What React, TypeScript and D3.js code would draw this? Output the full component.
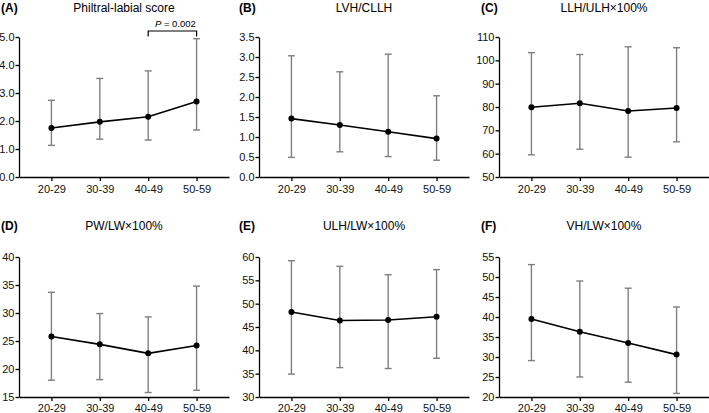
import React, { useEffect, useRef } from "react";
import * as d3 from "d3";

const categories = ["20-29", "30-39", "40-49", "50-59"];
const panelLetters = ["(A)", "(B)", "(C)", "(D)", "(E)", "(F)"];
const titles = [
  "Philtral-labial score",
  "LVH/CLLH",
  "LLH/ULH×100%",
  "PW/LW×100%",
  "ULH/LW×100%",
  "VH/LW×100%",
];

// means, lower and upper error bar ends
const meansA = [1.75, 1.97, 2.15, 2.7];
const lowA = [1.13, 1.35, 1.32, 1.68];
const highA = [2.74, 3.52, 3.79, 4.94];

const meansB = [1.46, 1.3, 1.13, 0.96];
const lowB = [0.49, 0.63, 0.51, 0.42];
const highB = [3.03, 2.63, 3.07, 2.03];

const meansC = [79.9, 81.6, 78.3, 79.6];
const lowC = [59.5, 61.9, 58.5, 65.1];
const highC = [103.3, 102.5, 105.8, 105.4];

const meansD = [25.8, 24.4, 22.8, 24.2];
const lowD = [18.0, 18.1, 15.8, 16.2];
const highD = [33.7, 29.9, 29.3, 34.8];

const meansE = [48.2, 46.4, 46.5, 47.2];
const lowE = [34.9, 36.3, 36.1, 38.3];
const highE = [59.2, 58.0, 56.2, 57.3];

const meansF = [39.5, 36.3, 33.5, 30.6];
const lowF = [29.1, 25.0, 23.7, 20.9];
const highF = [53.1, 49.0, 47.2, 42.5];

const yTicksA = [0, 1, 2, 3, 4, 5];
const yTicksB = [0, 0.5, 1, 1.5, 2, 2.5, 3, 3.5];
const yTicksC = [50, 60, 70, 80, 90, 100, 110];
const yTicksD = [15, 20, 25, 30, 35, 40];
const yTicksE = [30, 35, 40, 45, 50, 55, 60];
const yTicksF = [20, 25, 30, 35, 40, 45, 50, 55];

const yFormats = [".1f", ".1f", "d", "d", "d", "d"];

const panels = [
  { means: meansA, low: lowA, high: highA, ticks: yTicksA },
  { means: meansB, low: lowB, high: highB, ticks: yTicksB },
  { means: meansC, low: lowC, high: highC, ticks: yTicksC },
  { means: meansD, low: lowD, high: highD, ticks: yTicksD },
  { means: meansE, low: lowE, high: highE, ticks: yTicksE },
  { means: meansF, low: lowF, high: highF, ticks: yTicksF },
];

const W = 709;
const H = 413;
const colAxisX = [19, 259, 499];
const colLabelX = [1, 239, 481];
const rowTop = [37, 257];
const rowBaseline = [12, 230];
const rowXPad = [4, 3];
const plotW = 210;
const plotH = 140;
const FONT = "'Liberation Sans', Arial, Helvetica, sans-serif";

function Panel({ idx }: { idx: number }) {
  const xRef = useRef<SVGGElement>(null);
  const yRef = useRef<SVGGElement>(null);
  const p = panels[idx];
  const col = idx % 3;
  const row = Math.floor(idx / 3);
  const ox = colAxisX[col];
  const oy = rowTop[row];
  const ext = d3.extent(p.ticks) as [number, number];
  const x = d3.scalePoint<string>().domain(categories).range([0, plotW]).padding(0.67);
  const y = d3.scaleLinear().domain(ext).range([plotH, 0]);

  useEffect(() => {
    const gx = d3.select(xRef.current!);
    gx.call(
      d3.axisBottom(x).tickSize(4).tickSizeOuter(0).tickPadding(rowXPad[row]) as any
    );
    const gy = d3.select(yRef.current!);
    gy.call(
      d3
        .axisLeft(y)
        .tickValues(p.ticks)
        .tickFormat(d3.format(yFormats[idx]) as any)
        .tickSize(3.5)
        .tickSizeOuter(0)
        .tickPadding(1) as any
    );
    [gx, gy].forEach((g) => {
      g.selectAll("path,line").attr("stroke", "#000").attr("stroke-width", 1.3);
      g.selectAll("text")
        .attr("fill", "#111")
        .style("font-family", FONT)
        .style("font-size", "11px");
    });
  }, []);

  const line = d3
    .line<number>()
    .x((_, i) => x(categories[i])!)
    .y((d) => y(d));

  return (
    <g>
      <text
        x={colLabelX[col]}
        y={rowBaseline[row]}
        fontFamily={FONT}
        fontSize={12}
        fontWeight="bold"
        fill="#000"
      >
        {panelLetters[idx]}
      </text>
      <text
        x={ox + plotW / 2}
        y={rowBaseline[row]}
        fontFamily={FONT}
        fontSize={12}
        textAnchor="middle"
        fill="#000"
      >
        {titles[idx]}
      </text>
      <g transform={`translate(${ox},${oy})`}>
        {categories.map((c, i) => {
          const cx = x(c)!;
          return (
            <g key={c} stroke="#7f7f7f" strokeWidth={1.4}>
              <line x1={cx} x2={cx} y1={y(p.low[i])} y2={y(p.high[i])} />
              <line x1={cx - 3.5} x2={cx + 3.5} y1={y(p.low[i])} y2={y(p.low[i])} />
              <line x1={cx - 3.5} x2={cx + 3.5} y1={y(p.high[i])} y2={y(p.high[i])} />
            </g>
          );
        })}
        <path d={line(p.means)!} fill="none" stroke="#000" strokeWidth={1.6} />
        {p.means.map((m, i) => (
          <circle key={i} cx={x(categories[i])!} cy={y(m)} r={3} fill="#000" />
        ))}
        <g ref={xRef} transform={`translate(0,${plotH})`} />
        <g ref={yRef} />
        {idx === 0 && (
          <g>
            <path
              d={`M${x(categories[2])},${y(4.98) - 1}V${31 - oy}H${x(categories[3])}V${y(4.98) - 1}`}
              fill="none"
              stroke="#000"
              strokeWidth={1.2}
            />
            <text
              x={(x(categories[2])! + x(categories[3])!) / 2 + 3}
              y={27 - oy}
              fontFamily={FONT}
              fontSize={9.5}
              textAnchor="middle"
              fill="#000"
            >
              <tspan fontStyle="italic">P</tspan> = 0.002
            </text>
          </g>
        )}
      </g>
    </g>
  );
}

export default function App() {
  return (
    <svg
      width={W}
      height={H}
      style={{ position: "absolute", left: 0, top: 0, background: "#fff" }}
    >
      <rect width={W} height={H} fill="#fff" />
      {panels.map((_, i) => (
        <Panel key={i} idx={i} />
      ))}
    </svg>
  );
}
